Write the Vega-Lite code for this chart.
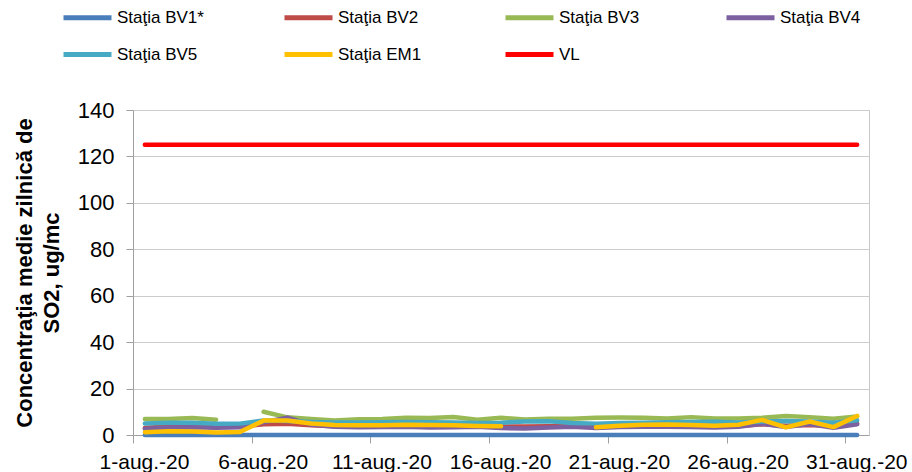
{
  "$schema": "https://vega.github.io/schema/vega-lite/v6.json",
  "width": 736,
  "height": 325,
  "autosize": {"type": "none"},
  "padding": {"left": 133, "top": 110, "right": 43, "bottom": 37},
  "background": "white",
  "config": {
    "font": "Liberation Sans",
    "view": {"stroke": "#c8c8c8", "strokeWidth": 1},
    "legend": {"labelFont": "Liberation Sans"}
  },
  "data": {
    "values": [
      {"series":"Staţia BV1*","day":1,"value":0},{"series":"Staţia BV1*","day":2,"value":0},{"series":"Staţia BV1*","day":3,"value":0},{"series":"Staţia BV1*","day":4,"value":0},{"series":"Staţia BV1*","day":5,"value":0},{"series":"Staţia BV1*","day":6,"value":0},{"series":"Staţia BV1*","day":7,"value":0},{"series":"Staţia BV1*","day":8,"value":0},{"series":"Staţia BV1*","day":9,"value":0},{"series":"Staţia BV1*","day":10,"value":0},{"series":"Staţia BV1*","day":11,"value":0},{"series":"Staţia BV1*","day":12,"value":0},{"series":"Staţia BV1*","day":13,"value":0},{"series":"Staţia BV1*","day":14,"value":0},{"series":"Staţia BV1*","day":15,"value":0},{"series":"Staţia BV1*","day":16,"value":0},{"series":"Staţia BV1*","day":17,"value":0},{"series":"Staţia BV1*","day":18,"value":0},{"series":"Staţia BV1*","day":19,"value":0},{"series":"Staţia BV1*","day":20,"value":0},{"series":"Staţia BV1*","day":21,"value":0},{"series":"Staţia BV1*","day":22,"value":0},{"series":"Staţia BV1*","day":23,"value":0},{"series":"Staţia BV1*","day":24,"value":0},{"series":"Staţia BV1*","day":25,"value":0},{"series":"Staţia BV1*","day":26,"value":0},{"series":"Staţia BV1*","day":27,"value":0},{"series":"Staţia BV1*","day":28,"value":0},{"series":"Staţia BV1*","day":29,"value":0},{"series":"Staţia BV1*","day":30,"value":0},{"series":"Staţia BV1*","day":31,"value":0},

      {"series":"Staţia BV2","day":1,"value":3.0},{"series":"Staţia BV2","day":2,"value":3.8},{"series":"Staţia BV2","day":3,"value":3.7},{"series":"Staţia BV2","day":4,"value":3.6},{"series":"Staţia BV2","day":5,"value":3.6},{"series":"Staţia BV2","day":6,"value":4.6},{"series":"Staţia BV2","day":7,"value":4.8},{"series":"Staţia BV2","day":8,"value":4.2},{"series":"Staţia BV2","day":9,"value":3.8},{"series":"Staţia BV2","day":10,"value":3.7},{"series":"Staţia BV2","day":11,"value":3.6},{"series":"Staţia BV2","day":12,"value":3.8},{"series":"Staţia BV2","day":13,"value":3.9},{"series":"Staţia BV2","day":14,"value":3.7},{"series":"Staţia BV2","day":15,"value":3.5},{"series":"Staţia BV2","day":16,"value":3.6},{"series":"Staţia BV2","day":17,"value":3.7},{"series":"Staţia BV2","day":18,"value":3.8},{"series":"Staţia BV2","day":19,"value":3.9},{"series":"Staţia BV2","day":20,"value":3.6},{"series":"Staţia BV2","day":21,"value":3.8},{"series":"Staţia BV2","day":22,"value":4.0},{"series":"Staţia BV2","day":23,"value":4.2},{"series":"Staţia BV2","day":24,"value":4.0},{"series":"Staţia BV2","day":25,"value":3.8},{"series":"Staţia BV2","day":26,"value":3.9},{"series":"Staţia BV2","day":27,"value":4.6},{"series":"Staţia BV2","day":28,"value":4.0},{"series":"Staţia BV2","day":29,"value":4.3},{"series":"Staţia BV2","day":30,"value":3.9},{"series":"Staţia BV2","day":31,"value":5.0},

      {"series":"Staţia BV3","day":1,"value":6.9},{"series":"Staţia BV3","day":2,"value":6.9},{"series":"Staţia BV3","day":3,"value":7.3},{"series":"Staţia BV3","day":4,"value":6.6},{"series":"Staţia BV3","day":5,"value":null},{"series":"Staţia BV3","day":6,"value":10.0},{"series":"Staţia BV3","day":7,"value":7.6},{"series":"Staţia BV3","day":8,"value":6.9},{"series":"Staţia BV3","day":9,"value":6.3},{"series":"Staţia BV3","day":10,"value":6.8},{"series":"Staţia BV3","day":11,"value":6.9},{"series":"Staţia BV3","day":12,"value":7.4},{"series":"Staţia BV3","day":13,"value":7.3},{"series":"Staţia BV3","day":14,"value":7.8},{"series":"Staţia BV3","day":15,"value":6.6},{"series":"Staţia BV3","day":16,"value":7.4},{"series":"Staţia BV3","day":17,"value":6.7},{"series":"Staţia BV3","day":18,"value":7.0},{"series":"Staţia BV3","day":19,"value":7.0},{"series":"Staţia BV3","day":20,"value":7.4},{"series":"Staţia BV3","day":21,"value":7.5},{"series":"Staţia BV3","day":22,"value":7.4},{"series":"Staţia BV3","day":23,"value":7.1},{"series":"Staţia BV3","day":24,"value":7.7},{"series":"Staţia BV3","day":25,"value":7.1},{"series":"Staţia BV3","day":26,"value":7.1},{"series":"Staţia BV3","day":27,"value":7.4},{"series":"Staţia BV3","day":28,"value":8.2},{"series":"Staţia BV3","day":29,"value":7.7},{"series":"Staţia BV3","day":30,"value":7.0},{"series":"Staţia BV3","day":31,"value":8.0},

      {"series":"Staţia BV4","day":1,"value":2.6},{"series":"Staţia BV4","day":2,"value":3.2},{"series":"Staţia BV4","day":3,"value":3.3},{"series":"Staţia BV4","day":4,"value":3.1},{"series":"Staţia BV4","day":5,"value":3.3},{"series":"Staţia BV4","day":6,"value":5.5},{"series":"Staţia BV4","day":7,"value":7.5},{"series":"Staţia BV4","day":8,"value":4.5},{"series":"Staţia BV4","day":9,"value":3.5},{"series":"Staţia BV4","day":10,"value":3.3},{"series":"Staţia BV4","day":11,"value":3.4},{"series":"Staţia BV4","day":12,"value":3.6},{"series":"Staţia BV4","day":13,"value":3.2},{"series":"Staţia BV4","day":14,"value":3.3},{"series":"Staţia BV4","day":15,"value":3.5},{"series":"Staţia BV4","day":16,"value":3.0},{"series":"Staţia BV4","day":17,"value":2.8},{"series":"Staţia BV4","day":18,"value":3.2},{"series":"Staţia BV4","day":19,"value":3.5},{"series":"Staţia BV4","day":20,"value":3.0},{"series":"Staţia BV4","day":21,"value":3.4},{"series":"Staţia BV4","day":22,"value":3.5},{"series":"Staţia BV4","day":23,"value":3.6},{"series":"Staţia BV4","day":24,"value":3.4},{"series":"Staţia BV4","day":25,"value":3.2},{"series":"Staţia BV4","day":26,"value":3.6},{"series":"Staţia BV4","day":27,"value":4.8},{"series":"Staţia BV4","day":28,"value":3.4},{"series":"Staţia BV4","day":29,"value":4.7},{"series":"Staţia BV4","day":30,"value":3.1},{"series":"Staţia BV4","day":31,"value":4.6},

      {"series":"Staţia BV5","day":1,"value":5.0},{"series":"Staţia BV5","day":2,"value":5.3},{"series":"Staţia BV5","day":3,"value":5.3},{"series":"Staţia BV5","day":4,"value":4.8},{"series":"Staţia BV5","day":5,"value":4.9},{"series":"Staţia BV5","day":6,"value":6.3},{"series":"Staţia BV5","day":7,"value":6.0},{"series":"Staţia BV5","day":8,"value":5.6},{"series":"Staţia BV5","day":9,"value":5.4},{"series":"Staţia BV5","day":10,"value":5.4},{"series":"Staţia BV5","day":11,"value":5.5},{"series":"Staţia BV5","day":12,"value":5.6},{"series":"Staţia BV5","day":13,"value":5.5},{"series":"Staţia BV5","day":14,"value":5.4},{"series":"Staţia BV5","day":15,"value":5.2},{"series":"Staţia BV5","day":16,"value":5.3},{"series":"Staţia BV5","day":17,"value":5.8},{"series":"Staţia BV5","day":18,"value":5.9},{"series":"Staţia BV5","day":19,"value":5.2},{"series":"Staţia BV5","day":20,"value":4.9},{"series":"Staţia BV5","day":21,"value":5.2},{"series":"Staţia BV5","day":22,"value":5.3},{"series":"Staţia BV5","day":23,"value":5.5},{"series":"Staţia BV5","day":24,"value":5.6},{"series":"Staţia BV5","day":25,"value":5.7},{"series":"Staţia BV5","day":26,"value":5.4},{"series":"Staţia BV5","day":27,"value":5.8},{"series":"Staţia BV5","day":28,"value":6.0},{"series":"Staţia BV5","day":29,"value":5.8},{"series":"Staţia BV5","day":30,"value":5.3},{"series":"Staţia BV5","day":31,"value":6.3},

      {"series":"Staţia EM1","day":1,"value":1.2},{"series":"Staţia EM1","day":2,"value":1.6},{"series":"Staţia EM1","day":3,"value":1.5},{"series":"Staţia EM1","day":4,"value":1.1},{"series":"Staţia EM1","day":5,"value":1.3},{"series":"Staţia EM1","day":6,"value":6.2},{"series":"Staţia EM1","day":7,"value":6.2},{"series":"Staţia EM1","day":8,"value":5.0},{"series":"Staţia EM1","day":9,"value":4.3},{"series":"Staţia EM1","day":10,"value":4.2},{"series":"Staţia EM1","day":11,"value":4.2},{"series":"Staţia EM1","day":12,"value":4.4},{"series":"Staţia EM1","day":13,"value":4.3},{"series":"Staţia EM1","day":14,"value":4.2},{"series":"Staţia EM1","day":15,"value":3.9},{"series":"Staţia EM1","day":16,"value":3.8},{"series":"Staţia EM1","day":17,"value":null},{"series":"Staţia EM1","day":18,"value":null},{"series":"Staţia EM1","day":19,"value":null},{"series":"Staţia EM1","day":20,"value":3.3},{"series":"Staţia EM1","day":21,"value":4.0},{"series":"Staţia EM1","day":22,"value":4.4},{"series":"Staţia EM1","day":23,"value":4.5},{"series":"Staţia EM1","day":24,"value":4.3},{"series":"Staţia EM1","day":25,"value":4.0},{"series":"Staţia EM1","day":26,"value":4.4},{"series":"Staţia EM1","day":27,"value":6.5},{"series":"Staţia EM1","day":28,"value":3.3},{"series":"Staţia EM1","day":29,"value":5.8},{"series":"Staţia EM1","day":30,"value":3.4},{"series":"Staţia EM1","day":31,"value":8.2},

      {"series":"VL","day":1,"value":125},{"series":"VL","day":2,"value":125},{"series":"VL","day":3,"value":125},{"series":"VL","day":4,"value":125},{"series":"VL","day":5,"value":125},{"series":"VL","day":6,"value":125},{"series":"VL","day":7,"value":125},{"series":"VL","day":8,"value":125},{"series":"VL","day":9,"value":125},{"series":"VL","day":10,"value":125},{"series":"VL","day":11,"value":125},{"series":"VL","day":12,"value":125},{"series":"VL","day":13,"value":125},{"series":"VL","day":14,"value":125},{"series":"VL","day":15,"value":125},{"series":"VL","day":16,"value":125},{"series":"VL","day":17,"value":125},{"series":"VL","day":18,"value":125},{"series":"VL","day":19,"value":125},{"series":"VL","day":20,"value":125},{"series":"VL","day":21,"value":125},{"series":"VL","day":22,"value":125},{"series":"VL","day":23,"value":125},{"series":"VL","day":24,"value":125},{"series":"VL","day":25,"value":125},{"series":"VL","day":26,"value":125},{"series":"VL","day":27,"value":125},{"series":"VL","day":28,"value":125},{"series":"VL","day":29,"value":125},{"series":"VL","day":30,"value":125},{"series":"VL","day":31,"value":125}
    ]
  },
  "mark": {"type": "line", "strokeWidth": 4.5, "strokeCap": "round", "strokeJoin": "round", "clip": false},
  "encoding": {
    "x": {
      "field": "day",
      "type": "quantitative",
      "scale": {"domain": [0.5, 31.5], "nice": false, "zero": false},
      "axis": {
        "title": null,
        "grid": false,
        "values": [0.5, 5.5, 10.5, 15.5, 20.5, 25.5, 30.5],
        "labelExpr": "(datum.value + 0.5) + '-aug.-20'",
        "labelOffset": 11,
        "labelFlush": false,
        "labelOverlap": false,
        "labelFontSize": 21,
        "labelColor": "#000000",
        "labelPadding": 8,
        "tickSize": 8,
        "tickColor": "#a0a0a0",
        "domainColor": "#a0a0a0"
      }
    },
    "y": {
      "field": "value",
      "type": "quantitative",
      "scale": {"domain": [0, 140], "nice": false},
      "axis": {
        "title": ["Concentraţia medie zilnică de", "SO2, ug/mc"],
        "titleFontSize": 22,
        "titleFontWeight": "bold",
        "titleColor": "#000000",
        "titleLineHeight": 27,
        "titlePadding": 14,
        "values": [0, 20, 40, 60, 80, 100, 120, 140],
        "labelFontSize": 22,
        "labelColor": "#000000",
        "labelPadding": 12,
        "tickSize": 7,
        "tickColor": "#a0a0a0",
        "domainColor": "#a0a0a0",
        "grid": true,
        "gridColor": "#cccccc",
        "gridWidth": 1
      }
    },
    "color": {
      "field": "series",
      "type": "nominal",
      "sort": ["Staţia BV1*", "Staţia BV2", "Staţia BV3", "Staţia BV4", "Staţia BV5", "Staţia EM1", "VL"],
      "scale": {
        "domain": ["Staţia BV1*", "Staţia BV2", "Staţia BV3", "Staţia BV4", "Staţia BV5", "Staţia EM1", "VL"],
        "range": ["#4A7EBB", "#BE4B48", "#98B954", "#7D60A0", "#46AAC5", "#FFC000", "#FF0000"]
      },
      "legend": {
        "title": null,
        "orient": "none",
        "legendX": -72,
        "legendY": -119,
        "direction": "horizontal",
        "columns": 4,
        "gridAlign": "all",
        "columnPadding": 70,
        "rowPadding": -1,
        "symbolType": "stroke",
        "symbolSize": 2304,
        "symbolStrokeWidth": 5,
        "labelFontSize": 17,
        "labelColor": "#000000",
        "labelOffset": 3,
        "labelLimit": 0
      }
    }
  }
}
